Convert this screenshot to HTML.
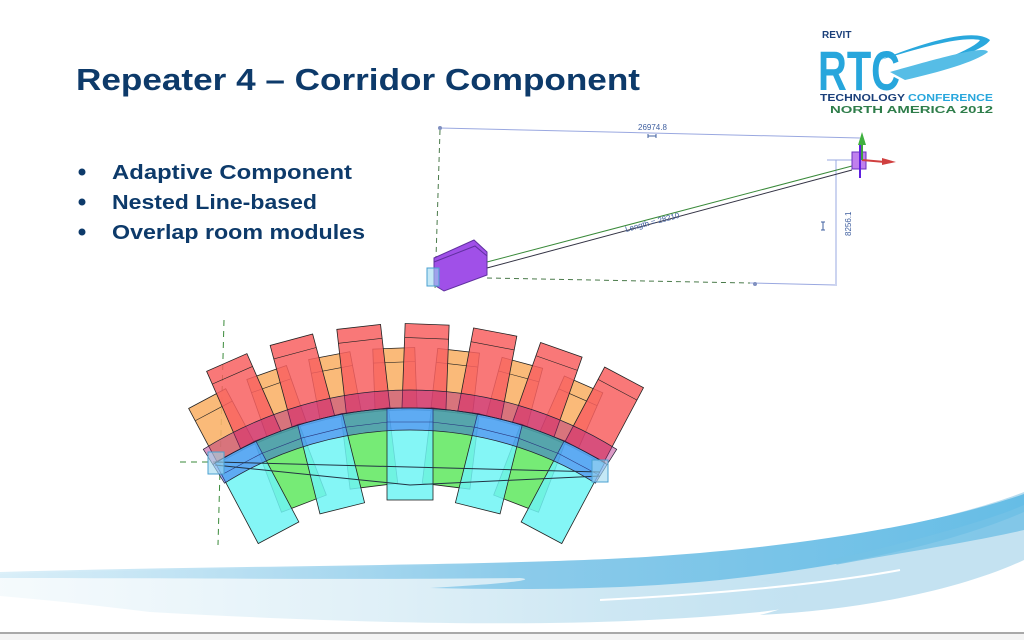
<!DOCTYPE html>
<html><head><meta charset="utf-8"><style>
html,body{margin:0;padding:0;background:#fff;width:1024px;height:640px;overflow:hidden}
svg{display:block}
</style></head><body>
<svg id="s" width="1024" height="640" viewBox="0 0 1024 640" xmlns="http://www.w3.org/2000/svg" font-family="Liberation Sans, sans-serif">
<defs>
<linearGradient id="w1" x1="0" y1="0" x2="1" y2="0">
<stop offset="0" stop-color="#cde9f6" stop-opacity="0.7"/><stop offset="0.5" stop-color="#8ccbea"/><stop offset="1" stop-color="#66bde6"/></linearGradient>
<linearGradient id="w2" x1="0" y1="0" x2="1" y2="0">
<stop offset="0" stop-color="#eef7fb" stop-opacity="0.6"/><stop offset="0.6" stop-color="#cde7f3"/><stop offset="1" stop-color="#b7dcef"/></linearGradient>
</defs>
<!-- bottom waves -->
<path d="M0 574 C250 566 500 568 650 560 C820 548 950 520 1024 492 L1024 545 C960 580 860 600 760 612 C600 628 400 626 150 612 C100 606 50 600 0 596 Z" fill="url(#w2)"/>
<path d="M0 572 C250 565 520 566 660 556 C820 545 950 520 1024 494 L1024 512 C960 540 860 565 720 580 C620 590 520 590 430 588 C500 584 540 580 520 578 C350 580 150 578 0 578 Z" fill="url(#w1)"/>
<path d="M830 560 C920 540 990 520 1024 505 L1024 530 C990 555 920 575 860 580 Z" fill="#74c2e6" opacity="0.8"/>
<path d="M760 580 C850 560 960 545 1024 530 L1024 560 C960 590 860 610 760 615 C800 605 820 592 760 580Z" fill="#c4e2f1"/>
<path d="M600 600 C700 595 820 585 900 570" stroke="#fff" stroke-width="2" fill="none"/>
<rect x="0" y="632" width="1024" height="2" fill="#a9a9a9"/>
<rect x="0" y="634" width="1024" height="6" fill="#f4f4f4"/>

<!-- title -->
<text x="76" y="90" font-size="31" font-weight="bold" fill="#0d3a6a" textLength="564" lengthAdjust="spacingAndGlyphs">Repeater  4 – Corridor Component</text>
<g font-size="20" font-weight="bold" fill="#0d3a6a">
<circle cx="82" cy="172" r="3.5"/><circle cx="82" cy="202" r="3.5"/><circle cx="82" cy="232" r="3.5"/>
<text x="112" y="179" textLength="240" lengthAdjust="spacingAndGlyphs">Adaptive Component</text>
<text x="112" y="209" textLength="205" lengthAdjust="spacingAndGlyphs">Nested Line-based</text>
<text x="112" y="239" textLength="253" lengthAdjust="spacingAndGlyphs">Overlap room modules</text>
</g>

<!-- logo -->
<g>
<text x="822" y="38" font-size="10" font-weight="bold" fill="#1a3f7a">REVIT</text>
<text x="818" y="90" font-size="56" font-weight="bold" fill="#27a6dc" textLength="82" lengthAdjust="spacingAndGlyphs">RTC</text>
<path d="M880 60 C930 40 975 28 990 40 C985 50 940 65 900 75 C940 62 975 48 980 40 C960 36 920 48 880 60Z" fill="#2aa8dd"/>
<path d="M890 72 C940 58 985 45 988 52 C975 62 940 72 905 80Z" fill="#56bde6"/>
<text x="820" y="101" font-size="10" font-weight="bold" fill="#1a3f7a" textLength="85" lengthAdjust="spacingAndGlyphs">TECHNOLOGY</text>
<text x="908" y="101" font-size="10" font-weight="bold" fill="#27a6dc" textLength="85" lengthAdjust="spacingAndGlyphs">CONFERENCE</text>
<text x="830" y="113" font-size="10" font-weight="bold" fill="#2e7d4a" textLength="163" lengthAdjust="spacingAndGlyphs">NORTH AMERICA 2012</text>
</g>

<!-- top right diagram -->
<g fill="none">
<line x1="440" y1="128" x2="860" y2="138" stroke="#9aa8e0" stroke-width="1"/>
<circle cx="440" cy="128" r="2" fill="#8090c0"/>
<line x1="440" y1="130" x2="435" y2="290" stroke="#4a7a4a" stroke-dasharray="5,4"/>
<line x1="487" y1="278" x2="750" y2="283" stroke="#4a7a4a" stroke-dasharray="5,4"/>
<line x1="750" y1="283" x2="835" y2="285" stroke="#9aa8e0"/>
<circle cx="755" cy="284" r="2" fill="#8090c0"/>
<line x1="836" y1="160" x2="836" y2="286" stroke="#9aa8e0"/>
<line x1="827" y1="160" x2="852" y2="160" stroke="#9aa8e0"/>
<line x1="487" y1="262" x2="852" y2="166" stroke="#3a8a3a"/>
<line x1="487" y1="268" x2="852" y2="170" stroke="#334"/>
<path d="M648 136 h8 M648 134 v4 M656 134 v4" stroke="#4060a0"/>
<path d="M823 222 v8 M821 222 h4 M821 230 h4" stroke="#4060a0"/>
<text x="638" y="130" font-size="8" fill="#4060a0" stroke="none">26974.8</text>
<text x="0" y="0" font-size="8" fill="#4060a0" stroke="none" transform="translate(626 232) rotate(-15)">Length = 28210</text>
<text x="0" y="0" font-size="8" fill="#4060a0" stroke="none" transform="translate(851 236) rotate(-90)">8256.1</text>
<path d="M434 258 L474 240 L487 252 L487 275 L444 291 L434 285 Z" fill="#a050e8" stroke="#6030a0"/>
<path d="M434 262 L475 246 L487 256" stroke="#6030a0"/>
<rect x="427" y="268" width="12" height="18" fill="#9fd8f0" fill-opacity="0.6" stroke="#4aa0d0"/>
<rect x="852" y="152" width="14" height="17" fill="#b060e8" fill-opacity="0.8" stroke="#6a30c0"/>
<line x1="862" y1="160" x2="885" y2="162" stroke="#d04040" stroke-width="2"/>
<path d="M882 158 L896 162 L882 165Z" fill="#d04040"/>
<line x1="862" y1="160" x2="862" y2="140" stroke="#40a040" stroke-width="2"/>
<path d="M858 145 L862 132 L866 145Z" fill="#40b040"/>
<line x1="860" y1="145" x2="860" y2="178" stroke="#6020e0" stroke-width="2"/>
</g>

<!-- arc guides -->
<line x1="224" y1="320" x2="218" y2="545" stroke="#3a8a3a" stroke-dasharray="6,5"/>
<line x1="180" y1="462" x2="230" y2="462" stroke="#3a8a3a" stroke-dasharray="6,5"/>
<g id="arc"></g>
</svg>
<script>
var g=document.getElementById('arc'),NS='http://www.w3.org/2000/svg',cx=410,cy=780;
function box(a,r0,r1,w,fill,op){
 var r=document.createElementNS(NS,'rect');
 r.setAttribute('x',cx-w/2);r.setAttribute('y',cy-r1);r.setAttribute('width',w);r.setAttribute('height',r1-r0);
 r.setAttribute('fill',fill);r.setAttribute('fill-opacity',op);r.setAttribute('stroke','#222');r.setAttribute('stroke-width','0.8');
 r.setAttribute('transform','rotate('+a+' '+cx+' '+cy+')');g.appendChild(r);
 var l=document.createElementNS(NS,'line');
 l.setAttribute('x1',cx-w/2);l.setAttribute('x2',cx+w/2);l.setAttribute('y1',cy-r1+14);l.setAttribute('y2',cy-r1+14);
 l.setAttribute('stroke','#222');l.setAttribute('stroke-width','0.6');l.setAttribute('transform','rotate('+a+' '+cx+' '+cy+')');g.appendChild(l);
}
var n=14;
for(var i=0;i<n;i++){var a=-28+i*56/(n-1);if(i%2==0)box(a,370,432,42,'#f9b26a',0.9);}
for(var i=0;i<n;i++){var a=-28+i*56/(n-1);if(i%2==1)box(a,370,456,44,'#f86060',0.85);}
for(var k=0;k<9;k++){var a=-28+k*7;if(k%2==1)box(a,296,372,48,'#5ee85e',0.85);}
for(var k=0;k<9;k++){var a=-28+k*7;if(k%2==0)box(a,280,372,46,'#6ff4f4',0.85);}
function band(r0,r1,fill,op){
 var p=document.createElementNS(NS,'path'),A=32*Math.PI/180;
 function pt(r,t){return (cx+r*Math.sin(t)).toFixed(1)+' '+(cy-r*Math.cos(t)).toFixed(1);}
 p.setAttribute('d','M'+pt(r1,-A)+' A'+r1+' '+r1+' 0 0 1 '+pt(r1,A)+' L'+pt(r0,A)+' A'+r0+' '+r0+' 0 0 0 '+pt(r0,-A)+'Z');
 p.setAttribute('fill',fill);p.setAttribute('fill-opacity',op);p.setAttribute('stroke','#223');p.setAttribute('stroke-width','0.7');g.appendChild(p);
}
band(372,390,'#b02080',0.45);
band(350,372,'#3050f0',0.45);
var ln=document.createElementNS(NS,'path');ln.setAttribute('d','M215 462 L600 472 M215 465 L410 485 L600 476');ln.setAttribute('stroke','#234');ln.setAttribute('fill','none');g.appendChild(ln);
var r1=document.createElementNS(NS,'rect');r1.setAttribute('x',208);r1.setAttribute('y',452);r1.setAttribute('width',16);r1.setAttribute('height',22);r1.setAttribute('fill','#9fd8f0');r1.setAttribute('fill-opacity','0.6');r1.setAttribute('stroke','#4aa0d0');g.appendChild(r1);
var r2=r1.cloneNode();r2.setAttribute('x',592);r2.setAttribute('y',460);g.appendChild(r2);
</script>
</body></html>
